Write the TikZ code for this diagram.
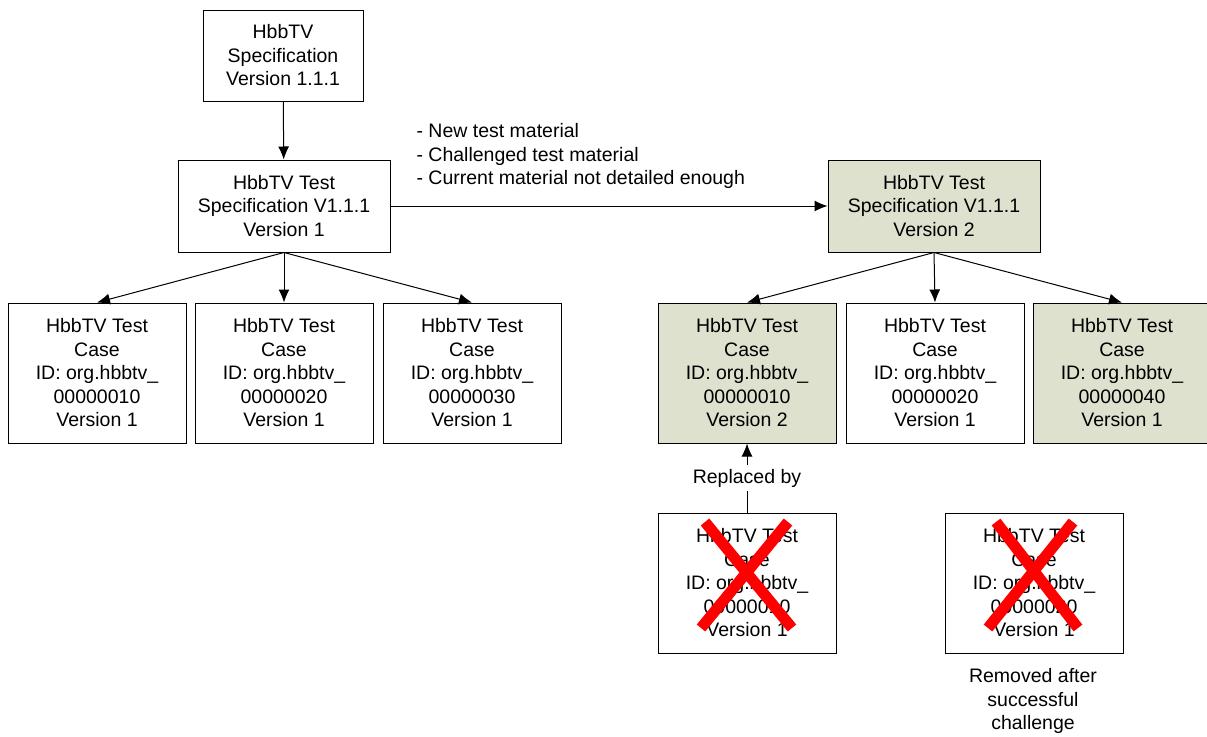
\documentclass[tikz,border=0pt]{standalone}
\usepackage{fontspec}
\setmainfont{Liberation Sans}
\usetikzlibrary{arrows.meta}

\definecolor{newgreen}{RGB}{221,225,205}

\tikzset{
  box/.style={draw=black,line width=1pt,align=center,inner sep=0pt,
    font=\fontsize{19.5}{23.5}\selectfont},
  specbox/.style={box,minimum width=212pt,minimum height=92pt},
  casebox/.style={box,minimum width=178pt,minimum height=140pt},
  note/.style={align=center,font=\fontsize{19.5}{23.5}\selectfont},
  arr/.style={draw=black,line width=1pt,-{Latex[length=13pt,width=11pt]}},
  cross/.style={draw=red,line width=11pt}
}

\begin{document}
\begin{tikzpicture}[x=1pt,y=-1pt]

\useasboundingbox (0,0) rectangle (1207,736);

\node[box,minimum width=160pt,minimum height=91pt] (spec) at (283,55.5) {HbbTV\\Specification\\Version 1.1.1};

%test spec v1
\node[specbox] (ts1) at (284,206) {HbbTV Test\\Specification V1.1.1\\Version 1};
\node[casebox] (tc1) at (97,373) {HbbTV Test\\Case\\ID: org.hbbtv\_\\00000010\\Version 1};
\node[casebox] (tc2) at (284,373) {HbbTV Test\\Case\\ID: org.hbbtv\_\\00000020\\Version 1};
\node[casebox] (tc3) at (472,373) {HbbTV Test\\Case\\ID: org.hbbtv\_\\00000030\\Version 1};

%test spec v2
\node[specbox,fill=newgreen] (ts2) at (934,206) {HbbTV Test\\Specification V1.1.1\\Version 2};
\node[casebox,fill=newgreen] (tc4) at (747,373) {HbbTV Test\\Case\\ID: org.hbbtv\_\\00000010\\Version 2};
\node[casebox] (tc5) at (935,373) {HbbTV Test\\Case\\ID: org.hbbtv\_\\00000020\\Version 1};
\node[casebox,fill=newgreen] (tc6) at (1122,373) {HbbTV Test\\Case\\ID: org.hbbtv\_\\00000040\\Version 1};

%old cases
\node[casebox] (old1) at (747,583) {HbbTV Test\\Case\\ID: org.hbbtv\_\\00000010\\Version 1};
\node[casebox] (old2) at (1034,583) {HbbTV Test\\Case\\ID: org.hbbtv\_\\00000020\\Version 1};
\path[cross] (705,522) -- (792,628);
\path[cross] (788,522) -- (701,628);
\path[cross] (996,522) -- (1078,628);
\path[cross] (1073,522) -- (988,628);

%labels
\node[note,align=left,anchor=west] (why) at (413,156) {- New test material\\- Challenged test material\\- Current material not detailed enough};
\node[note] (rep) at (747,478) {Replaced by};
\node[note] (rem) at (1033,701) {Removed after\\successful\\challenge};

%arrows
\path[arr] (spec) -- (ts1);
\path[arr] (ts1) -- (ts2);
\path[arr] (ts1.south) -- (tc1.north);
\path[arr] (ts1.south) -- (tc2.north);
\path[arr] (ts1.south) -- (tc3.north);
\path[arr] (ts2.south) -- (tc4.north);
\path[arr] (ts2.south) -- (tc5.north);
\path[arr] (ts2.south) -- (tc6.north);
\path[draw=black,line width=1pt] (old1.north) -- (rep.south);
\path[arr] (rep.north) -- (tc4.south);

\end{tikzpicture}
\end{document}
